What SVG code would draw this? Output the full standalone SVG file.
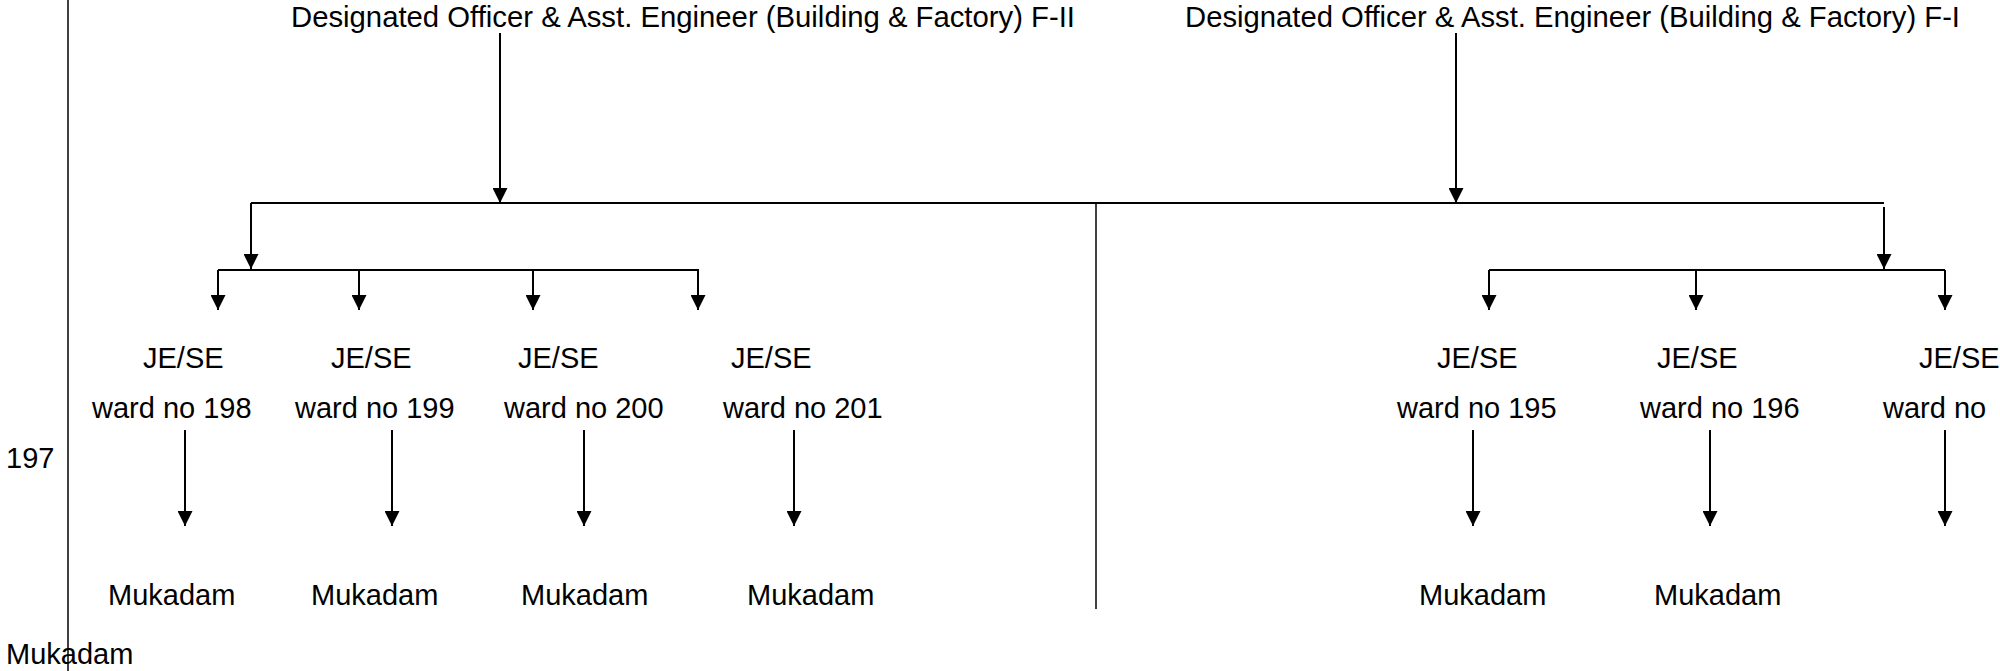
<svg xmlns="http://www.w3.org/2000/svg" width="2000" height="671" viewBox="0 0 2000 671">
<style>
text{font-family:"Liberation Sans",Arial,sans-serif;font-size:29px;fill:#000}
.h{font-size:29.3px}
.c{stroke:#000;stroke-width:2;fill:none}
.t{stroke:#000;stroke-width:1.5;fill:none}
.a{marker-end:url(#arr)}
</style>
<defs>
<marker id="arr" markerUnits="userSpaceOnUse" markerWidth="15" markerHeight="15" refX="15" refY="7.5" orient="auto">
<path d="M0,0 L15,7.5 L0,15 z" fill="#000"/>
</marker>
</defs>
<rect width="2000" height="671" fill="#fff"/>
<g id="connectors">
<line class="t" x1="68" y1="0" x2="68" y2="671"/>
<line class="t" x1="1096" y1="203" x2="1096" y2="609"/>
<line class="c a" x1="500" y1="33" x2="500" y2="203"/>
<line class="c a" x1="1456" y1="33" x2="1456" y2="203"/>
<line class="c" x1="251" y1="203" x2="1884" y2="203"/>
<line class="c a" x1="251" y1="203" x2="251" y2="269"/>
<line class="c a" x1="1884" y1="207" x2="1884" y2="269"/>
<line class="c" x1="218" y1="270" x2="699" y2="270"/>
<line class="c" x1="1489" y1="270" x2="1945" y2="270"/>
<line class="c a" x1="218" y1="270" x2="218" y2="310"/>
<line class="c a" x1="359" y1="270" x2="359" y2="310"/>
<line class="c a" x1="533" y1="270" x2="533" y2="310"/>
<line class="c a" x1="698" y1="270" x2="698" y2="310"/>
<line class="c a" x1="1489" y1="270" x2="1489" y2="310"/>
<line class="c a" x1="1696" y1="270" x2="1696" y2="310"/>
<line class="c a" x1="1945" y1="270" x2="1945" y2="310"/>
<line class="c a" x1="185" y1="430" x2="185" y2="526"/>
<line class="c a" x1="392" y1="430" x2="392" y2="526"/>
<line class="c a" x1="584" y1="430" x2="584" y2="526"/>
<line class="c a" x1="794" y1="430" x2="794" y2="526"/>
<line class="c a" x1="1473" y1="430" x2="1473" y2="526"/>
<line class="c a" x1="1710" y1="430" x2="1710" y2="526"/>
<line class="c a" x1="1945" y1="430" x2="1945" y2="526"/>
</g>
<g id="officer-f2"><text class="h" x="291" y="27" textLength="784" lengthAdjust="spacingAndGlyphs">Designated Officer &amp; Asst. Engineer (Building &amp; Factory) F-II</text></g>
<g id="officer-f1"><text class="h" x="1185" y="27" textLength="775" lengthAdjust="spacingAndGlyphs">Designated Officer &amp; Asst. Engineer (Building &amp; Factory) F-I</text></g>
<g id="je-198"><text x="143" y="368">JE/SE</text><text x="92" y="418">ward no 198</text></g>
<g id="je-199"><text x="331" y="368">JE/SE</text><text x="295" y="418">ward no 199</text></g>
<g id="je-200"><text x="518" y="368">JE/SE</text><text x="504" y="418">ward no 200</text></g>
<g id="je-201"><text x="731" y="368">JE/SE</text><text x="723" y="418">ward no 201</text></g>
<g id="je-195"><text x="1437" y="368">JE/SE</text><text x="1397" y="418">ward no 195</text></g>
<g id="je-196"><text x="1657" y="368">JE/SE</text><text x="1640" y="418">ward no 196</text></g>
<g id="je-197"><text x="1919" y="368">JE/SE</text><text x="1883" y="418">ward no </text><text x="6" y="468">197</text></g>
<g id="muk-198"><text x="108" y="605">Mukadam</text></g>
<g id="muk-199"><text x="311" y="605">Mukadam</text></g>
<g id="muk-200"><text x="521" y="605">Mukadam</text></g>
<g id="muk-201"><text x="747" y="605">Mukadam</text></g>
<g id="muk-195"><text x="1419" y="605">Mukadam</text></g>
<g id="muk-196"><text x="1654" y="605">Mukadam</text></g>
<g id="muk-197"><text x="6" y="664">Mukadam</text></g>
</svg>
